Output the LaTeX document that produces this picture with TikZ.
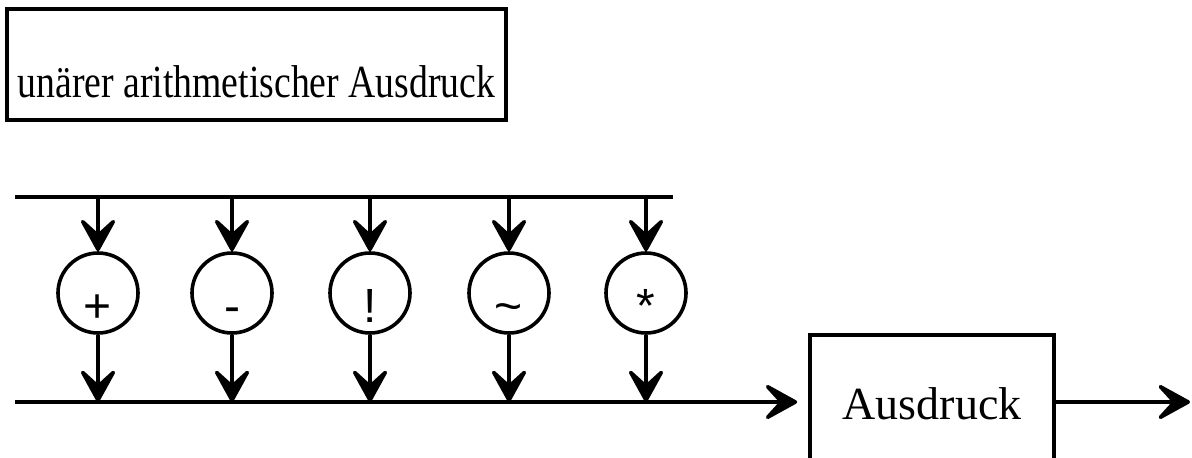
\documentclass[tikz,border=0pt]{standalone}
\usepackage{fontspec}
\setmainfont{Liberation Serif}
\newfontfamily\opfont{Liberation Sans}
\usetikzlibrary{arrows.meta}

\begin{document}
\begin{tikzpicture}[x=0.5pt,y=0.5pt,line width=1.8pt,
	flow/.style={-{Stealth[length=20pt,width=22pt,inset=10pt,round]}},
	opcirc/.style={draw,circle,minimum size=40pt,inner sep=0pt,
		font=\opfont\fontsize{24}{24}\selectfont,text height=29pt,text depth=0pt},
	rulebox/.style={draw,rectangle,inner sep=0pt}]
			%%%%% START %%%%%
			\useasboundingbox (0,0) rectangle (1192,457);
			\clip (0,0) rectangle (1192,457);
			
			\node[rulebox,minimum width=249.5pt,minimum height=55.5pt,
				font=\fontsize{23}{23}\selectfont,text height=32.5pt,text depth=0pt]
				(title) at (256.5,392.5) {\scalebox{0.82}[1]{unärer arithmetischer Ausdruck}};
			
			\coordinate (topL) at (15,260);
			\coordinate (topR) at (673,260);
			\draw (topL) -- (topR);
			
			\node[opcirc] (plus) at (98,164) {+};
			\node[opcirc] (minus) at (232,164) {-};
			\node[opcirc] (bang) at (370,164) {!};
			\node[opcirc] (tilde) at (509,164) {\textasciitilde};
			\node[opcirc] (star) at (646,164) {*};
			
			\node[rulebox,minimum width=122pt,minimum height=67pt,
				font=\fontsize{23}{23}\selectfont,text height=17pt,text depth=0pt]
				(expr) at (932,55) {Ausdruck};
			
			\coordinate (botL) at (15,55);
			\coordinate (outR) at (1190,55);
			
			\draw[flow] (plus |- topL) -- (plus.north);
			\draw[flow] (minus |- topL) -- (minus.north);
			\draw[flow] (bang |- topL) -- (bang.north);
			\draw[flow] (tilde |- topL) -- (tilde.north);
			\draw[flow] (star |- topL) -- (star.north);
			
			\draw[flow] (plus.south) -- (plus |- botL);
			\draw[flow] (minus.south) -- (minus |- botL);
			\draw[flow] (bang.south) -- (bang |- botL);
			\draw[flow] (tilde.south) -- (tilde |- botL);
			\draw[flow] (star.south) -- (star |- botL);
			
			\draw[flow,shorten >=5.5pt] (botL) -- (expr.west);
			\draw[flow] (expr.east) -- (outR);
			%%%%% END %%%%%
		\end{tikzpicture}
\end{document}
